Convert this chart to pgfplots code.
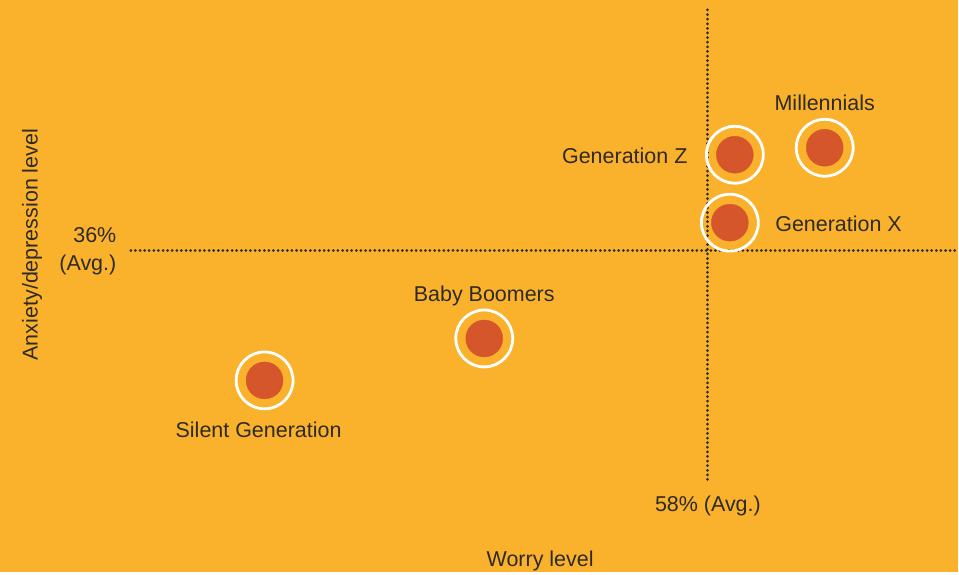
\documentclass[border=0pt]{standalone}
\usepackage{pgfplots}
\pgfplotsset{compat=1.18}
\usepackage{fontspec}
\setmainfont{Liberation Sans}
\definecolor{bgorange}{HTML}{FAB22C}
\definecolor{dotred}{HTML}{D5562A}
\definecolor{txt}{HTML}{2E2A25}
\begin{document}
\begin{tikzpicture}
\fill[bgorange] (0,0) rectangle (959pt,573pt);
\begin{axis}[
  at={(0,0)}, anchor=south west,
  width=959pt, height=573pt, scale only axis,
  xmin=0, xmax=959, ymin=0, ymax=573,
  hide axis, clip=false,
]
% rings
\addplot[draw=white, only marks, mark=o, mark size=28.5pt, mark options={draw=white, line width=2.8pt}] coordinates {
  (265,192) (485,234) (736,418) (826,425) (731,350)};
% dots
\addplot[color=dotred, only marks, mark=*, mark size=18.5pt, mark options={draw=dotred, fill=dotred}] coordinates {
  (265,192) (485,234) (736,418) (826,425) (731,350)};
% average lines
\addplot[draw=txt, line width=3pt, line cap=round, dash pattern=on 0.01pt off 4.6pt] coordinates {(709,563) (709,90)};
\addplot[draw=txt, line width=3pt, line cap=round, dash pattern=on 0.01pt off 4.6pt] coordinates {(131,322) (959,322)};
\begin{scope}[font=\fontsize{21.5}{28}\selectfont, text=txt]
\node at (axis cs:826,470) {Millennials};
\node[anchor=east] at (axis cs:692,417) {Generation Z};
\node[anchor=west] at (axis cs:773,349) {Generation X};
\node at (axis cs:485,277) {Baby Boomers};
\node at (axis cs:259,142) {Silent Generation};
\node[anchor=east, align=right] at (axis cs:120,321) {36\%\\(Avg.)};
\node at (axis cs:709,66) {58\% (Avg.)};
\node at (axis cs:541,11) {Worry level};
\node[rotate=90] at (axis cs:32,328) {Anxiety/depression level};
\end{scope}
\end{axis}
\end{tikzpicture}
\end{document}
